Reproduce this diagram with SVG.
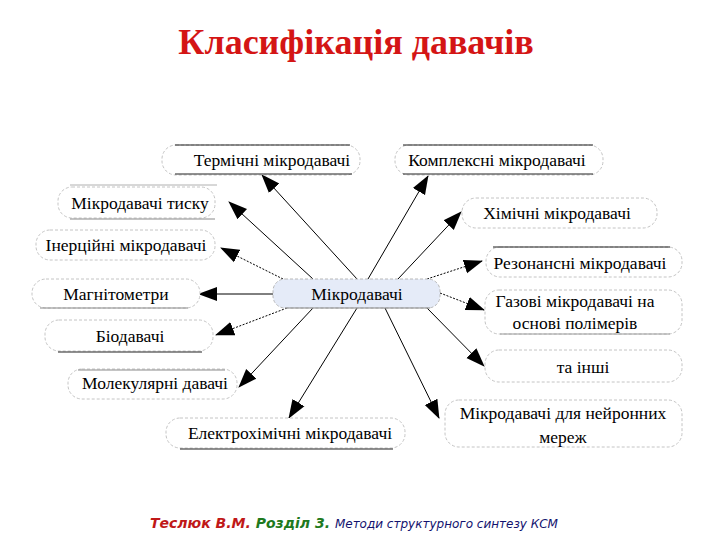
<svg xmlns="http://www.w3.org/2000/svg" width="720" height="540" viewBox="0 0 720 540">
<defs>
<marker id="ah" markerUnits="userSpaceOnUse" markerWidth="20" markerHeight="16" refX="18" refY="8" orient="auto">
<path d="M0,1 L19,8 L0,15 z" fill="#000"/>
</marker>
<style>
.box{fill:#fff;stroke:#c4c4c4;stroke-width:1;stroke-dasharray:3 2}
.ctr{fill:#e5ebf8;stroke:#b8b8b8;stroke-width:1;stroke-dasharray:3 2}
.dk{stroke:#222;stroke-width:1.2}
.gr{stroke:#8a8a8a;stroke-width:1.2}
.t{font-family:"Times New Roman","Liberation Serif","Noto Serif","DejaVu Serif",FreeSerif,serif;font-size:17.5px;fill:#000;text-anchor:middle}
.ttl{font-family:"Times New Roman","Liberation Serif","Noto Serif","DejaVu Serif",FreeSerif,serif;font-size:36px;font-weight:bold;fill:#d41515;text-anchor:middle}
.c line{stroke:#000;stroke-width:1;marker-end:url(#ah)}
.c .d{stroke-dasharray:2 1.5}
</style>
</defs>
<rect width="720" height="540" fill="#fff"/>
<text class="ttl" x="356" y="54">Класифікація давачів</text>

<g id="connectors" class="c">
<line x1="357" y1="279" x2="262" y2="175"/>
<line x1="368" y1="279" x2="428" y2="176"/>
<line x1="313" y1="279" x2="229" y2="202"/>
<line class="d" x1="283" y1="279" x2="221" y2="248"/>
<line x1="273" y1="294" x2="199" y2="294"/>
<line class="d" x1="287" y1="308" x2="216" y2="335"/>
<line x1="313" y1="308" x2="239" y2="387"/>
<line x1="357" y1="308" x2="289" y2="418"/>
<line x1="398" y1="279" x2="461" y2="212"/>
<line class="d" x1="427" y1="279" x2="482" y2="261"/>
<line class="d" x1="440" y1="293" x2="484" y2="310"/>
<line x1="427" y1="308" x2="484" y2="366"/>
<line x1="385" y1="308" x2="439" y2="418"/>
</g>

<g id="center">
<rect class="ctr" x="273" y="279" width="167" height="29" rx="12"/>
<line class="gr" x1="285" y1="308" x2="430" y2="308"/>
<text class="t" x="357" y="300">Мікродавачі</text>
</g>

<g id="n-termichni">
<rect class="box" x="162" y="145" width="198" height="30" rx="14"/>
<line class="dk" x1="175" y1="145" x2="350" y2="145"/>
<line class="dk" x1="175" y1="174" x2="352" y2="174"/>
<text class="t" x="272" y="166">Термічні мікродавачі</text>
</g>

<g id="n-kompleksni">
<rect class="box" x="395" y="145" width="208" height="30" rx="14"/>
<line class="dk" x1="403" y1="145" x2="593" y2="145"/>
<line class="dk" x1="403" y1="174" x2="593" y2="174"/>
<text class="t" x="497" y="166">Комплексні мікродавачі</text>
</g>

<g id="n-tysku">
<rect class="box" x="58" y="187" width="157" height="31" rx="14"/>
<line x1="70" y1="185" x2="217" y2="185" stroke="#b0b0b0" stroke-width="1"/>
<line class="gr" x1="70" y1="219" x2="215" y2="219"/>
<text class="t" x="140" y="209">Мікродавачі тиску</text>
</g>

<g id="n-inertsiini">
<rect class="box" x="36" y="230" width="179" height="30" rx="14"/>
<text class="t" x="126" y="251">Інерційні мікродавачі</text>
</g>

<g id="n-mahnitometry">
<rect class="box" x="32" y="279" width="168" height="29" rx="14"/>
<line class="gr" x1="40" y1="308" x2="188" y2="308"/>
<text class="t" x="116" y="300">Магнітометри</text>
</g>

<g id="n-biodavachi">
<rect class="box" x="45" y="320" width="168" height="31" rx="14"/>
<line class="dk" x1="58" y1="352" x2="202" y2="352"/>
<text class="t" x="130" y="342">Біодавачі</text>
</g>

<g id="n-molekuliarni">
<rect class="box" x="68" y="369" width="169" height="30" rx="14"/>
<line class="gr" x1="78" y1="370" x2="225" y2="370"/>
<text class="t" x="155" y="389">Молекулярні давачі</text>
</g>

<g id="n-elektrokhimichni">
<rect class="box" x="166" y="418" width="239" height="30" rx="14"/>
<line class="dk" x1="180" y1="449" x2="393" y2="449"/>
<text class="t" x="290" y="439">Електрохімічні мікродавачі</text>
</g>

<g id="n-khimichni">
<rect class="box" x="462" y="198" width="195" height="30" rx="14"/>
<text class="t" x="557" y="219">Хімічні мікродавачі</text>
</g>

<g id="n-rezonansni">
<rect class="box" x="486" y="247" width="196" height="30" rx="14"/>
<line class="dk" x1="493" y1="247" x2="670" y2="247"/>
<text class="t" x="580" y="269">Резонансні мікродавачі</text>
</g>

<g id="n-hazovi">
<rect class="box" x="485" y="290" width="197" height="44" rx="14"/>
<line x1="500" y1="334" x2="670" y2="334" stroke="#9a9a9a" stroke-width="1"/>
<text class="t" x="575" y="307">Газові мікродавачі на</text>
<text class="t" x="575" y="329">основі полімерів</text>
</g>

<g id="n-inshi">
<rect class="box" x="485" y="350" width="197" height="32" rx="14"/>
<text class="t" x="583" y="373">та інші</text>
</g>

<g id="n-neironni">
<rect class="box" x="445" y="400" width="237" height="47" rx="14"/>
<text class="t" x="563" y="419">Мікродавачі для нейронних</text>
<text class="t" x="563" y="443">мереж</text>
</g>

<text x="150" y="528" font-family="DejaVu Sans, Verdana, sans-serif" font-style="italic"><tspan font-size="14" font-weight="bold" fill="#c01818">Теслюк В.М. </tspan><tspan font-size="14" font-weight="bold" fill="#1e7a1e">Розділ 3. </tspan><tspan font-size="12" fill="#12126e">Методи структурного синтезу КСМ</tspan></text>
</svg>
